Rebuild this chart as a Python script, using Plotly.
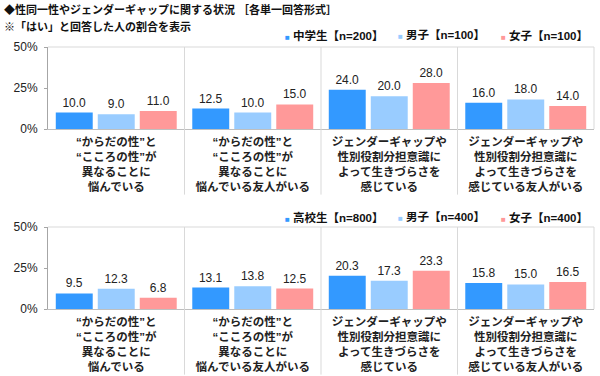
import plotly.graph_objects as go
from plotly.subplots import make_subplots

categories = [
    "“からだの性”と<br>“こころの性”が<br>異なることに<br>悩んでいる",
    "“からだの性”と<br>“こころの性”が<br>異なることに<br>悩んでいる友人がいる",
    "ジェンダーギャップや<br>性別役割分担意識に<br>よって生きづらさを<br>感じている",
    "ジェンダーギャップや<br>性別役割分担意識に<br>よって生きづらさを<br>感じている友人がいる",
]

top_names = ["中学生【n=200】", "男子【n=100】", "女子【n=100】"]
top_total = [10.0, 12.5, 24.0, 16.0]
top_boys = [9.0, 10.0, 20.0, 18.0]
top_girls = [11.0, 15.0, 28.0, 14.0]

bottom_names = ["高校生【n=800】", "男子【n=400】", "女子【n=400】"]
bottom_total = [9.5, 13.1, 20.3, 15.8]
bottom_boys = [12.3, 13.8, 17.3, 15.0]
bottom_girls = [6.8, 12.5, 23.3, 16.5]

y_ticks = [0, 25, 50]
y_tick_labels = [f"{v}%" for v in y_ticks]

title_line1 = "◆性同一性やジェンダーギャップに関する状況 ［各単一回答形式］"
title_line2 = "※「はい」と回答した人の割合を表示"

colors = ["#3399FF", "#99CCFF", "#FF9999"]
FONT = "Liberation Sans, Arial, Noto Sans CJK JP, sans-serif"

W, H = 600, 376
def px(x):
    return x / W
def py(y):
    return 1 - y / H

fig = make_subplots(rows=2, cols=1)

xs = list(range(len(categories)))
for row, names, series in [
    (1, top_names, [top_total, top_boys, top_girls]),
    (2, bottom_names, [bottom_total, bottom_boys, bottom_girls]),
]:
    for name, vals, c in zip(names, series, colors):
        fig.add_trace(
            go.Bar(
                x=xs, y=vals, name=name,
                marker=dict(color=c, line=dict(width=0)),
                text=[f"{v:.1f}" for v in vals],
                textposition="outside",
                textfont=dict(family=FONT, size=12, color="#222222"),
                cliponaxis=False,
                showlegend=False,
            ),
            row=row, col=1,
        )

xdom = [px(48), px(594)]
ydoms = [[py(129), py(47)], [py(309), py(227)]]

axis_common_x = dict(
    range=[-0.5, 3.5],
    tickmode="array", tickvals=xs, ticktext=[f"<b>{c}</b>" for c in categories],
    tickfont=dict(family=FONT, size=11.5, color="#222222"),
    showgrid=False, zeroline=False,
    showline=True, linecolor="#bfbfbf", linewidth=1,
    ticks="", ticklabelstandoff=2, automargin=False,
    domain=xdom, fixedrange=True,
)
axis_common_y = dict(
    range=[0, 50], tickmode="array", tickvals=y_ticks, ticktext=y_tick_labels,
    tickfont=dict(family=FONT, size=12, color="#222222"),
    showgrid=False, zeroline=False,
    showline=True, linecolor="#a6a6a6", linewidth=1,
    ticks="outside", ticklen=3, tickcolor="#a6a6a6",
    ticklabelstandoff=4, automargin=False, fixedrange=True,
)

fig.update_layout(
    xaxis=dict(**axis_common_x),
    xaxis2=dict(**axis_common_x),
    yaxis=dict(**axis_common_y, domain=ydoms[0]),
    yaxis2=dict(**axis_common_y, domain=ydoms[1]),
)

shapes = []
for xa, ya in [("x", "y"), ("x2", "y2")]:
    shapes.append(dict(type="line", xref=f"{xa} domain", yref=f"{ya} domain",
                       x0=0, x1=1, y0=1, y1=1, line=dict(color="#d9d9d9", width=1)))
    shapes.append(dict(type="line", xref=f"{xa} domain", yref=f"{ya} domain",
                       x0=1, x1=1, y0=0, y1=1, line=dict(color="#d9d9d9", width=1)))
    for sep in [0.5, 1.5, 2.5]:
        shapes.append(dict(type="line", xref=xa, yref=f"{ya} domain",
                           x0=sep, x1=sep, y0=-0.8, y1=1,
                           line=dict(color="#d9d9d9", width=1)))

annotations = [
    dict(text=f"<b>{title_line1}</b>", x=px(2), y=py(10), xref="paper", yref="paper",
         xanchor="left", yanchor="middle", showarrow=False,
         font=dict(family=FONT, size=11, color="#111111")),
    dict(text=f"<b>{title_line2}</b>", x=px(2), y=py(27), xref="paper", yref="paper",
         xanchor="left", yanchor="middle", showarrow=False,
         font=dict(family=FONT, size=11, color="#111111")),
]

legend_x = [283, 396, 499]
for names, ly in [(top_names, 35), (bottom_names, 217)]:
    for name, c, lx in zip(names, colors, legend_x):
        annotations.append(dict(
            text=f"<span style='color:{c};font-size:8px'>■</span> <b>{name}</b>",
            x=px(lx), y=py(ly), xref="paper", yref="paper",
            xanchor="left", yanchor="middle", showarrow=False,
            font=dict(family=FONT, size=11.5, color="#111111"),
        ))

fig.update_layout(
    width=W, height=H,
    margin=dict(l=0, r=0, t=0, b=0, autoexpand=False),
    paper_bgcolor="white", plot_bgcolor="white",
    barmode="group", bargap=0.077, bargroupgap=0.12,
    shapes=shapes, annotations=annotations,
    font=dict(family=FONT),
    hovermode=False,
)

fig.write_html(
    "out.html",
    config={"displayModeBar": False, "staticPlot": True},
    post_script="document.body.style.margin='0';document.body.style.overflow='hidden';",
)
